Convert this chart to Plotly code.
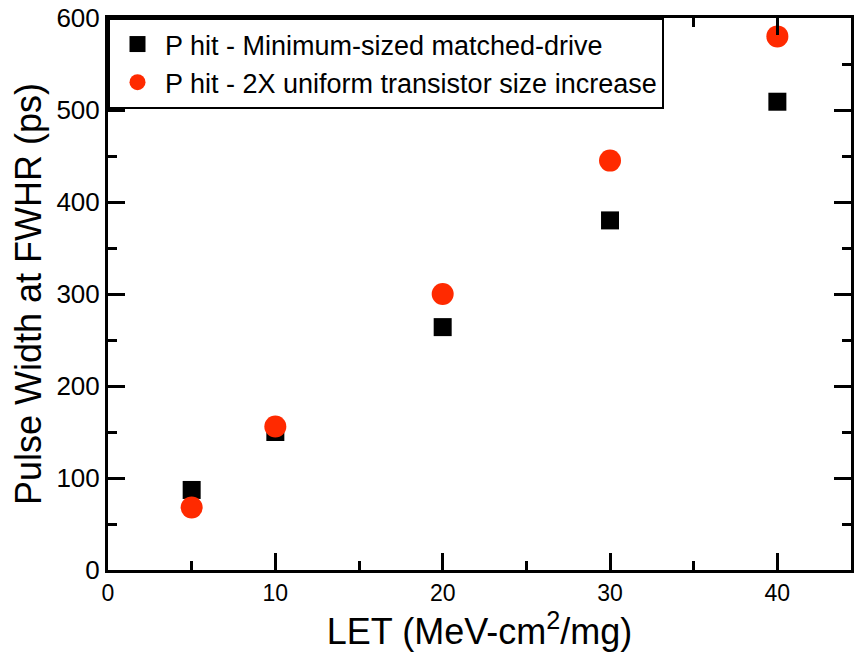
import plotly.graph_objects as go

let = [5, 10, 20, 30, 40]
min_sized = [87, 150, 264, 380, 509]
uniform_2x = [68, 156, 300, 445, 580]

names = ["P hit - Minimum-sized matched-drive", "P hit - 2X uniform transistor size increase"]
FONT = "Liberation Sans, Arial, Helvetica, sans-serif"

fig = go.Figure()
fig.add_trace(go.Scatter(x=let, y=min_sized, mode="markers", name=names[0],
                         marker=dict(symbol="square", size=18, color="black")))
fig.add_trace(go.Scatter(x=let, y=uniform_2x, mode="markers", name=names[1],
                         marker=dict(symbol="circle", size=22, color="#ff2a00")))

axis_common = dict(showline=True, linecolor="black", linewidth=3, mirror="ticks",
                   ticks="inside", ticklen=17, tickwidth=3, tickcolor="black",
                   showgrid=False, zeroline=False)

fig.update_xaxes(range=[0, 44.4], dtick=10, tick0=0,
                 tickfont=dict(family=FONT, size=23, color="black"),
                 minor=dict(ticks="inside", ticklen=9, tickwidth=3, tickcolor="black", dtick=5, tick0=0, showgrid=False),
                 title=dict(text="LET (MeV-cm<sup>2</sup>/mg)", font=dict(family=FONT, size=36, color="black"), standoff=6),
                 **axis_common)
fig.update_yaxes(range=[0, 600], dtick=100, tick0=0,
                 tickfont=dict(family=FONT, size=26, color="black"),
                 minor=dict(ticks="inside", ticklen=9, tickwidth=3, tickcolor="black", dtick=50, tick0=0, showgrid=False),
                 title=dict(text="Pulse Width at FWHR (ps)", font=dict(family=FONT, size=36, color="black"), standoff=4),
                 **axis_common)

fig.update_layout(
    width=854, height=660,
    margin=dict(l=108, r=0, t=18, b=90),
    plot_bgcolor="white", paper_bgcolor="white",
    font=dict(family=FONT, color="black"),
    legend=dict(x=0, y=1, xanchor="left", yanchor="top",
                bordercolor="black", borderwidth=2, bgcolor="white",
                font=dict(family=FONT, size=27, color="black"),
                itemsizing="trace", itemwidth=45, tracegroupgap=0),
)

fig.write_html("out.html")
